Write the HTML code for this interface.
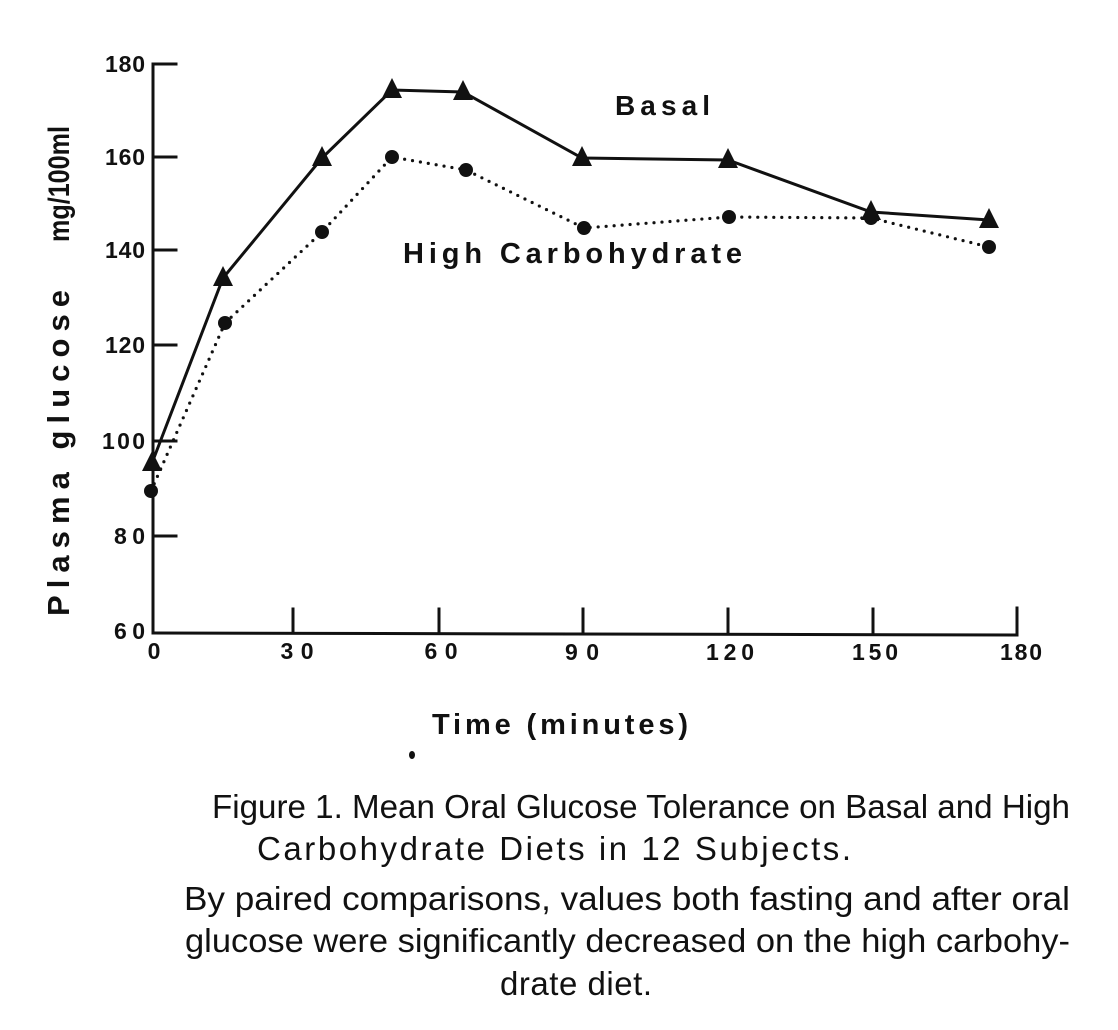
<!DOCTYPE html>
<html>
<head>
<meta charset="utf-8">
<style>
  html, body { margin: 0; padding: 0; background: #fff; }
  body { width: 1118px; height: 1030px; overflow: hidden; }
  svg { display: block; }
  .ax { font-family: "Liberation Sans", "DejaVu Sans", sans-serif; fill: #111; }
  .cap { font-family: "Liberation Sans", sans-serif; fill: #111; font-size: 33px; }
</style>
</head>
<body>
<svg width="1118" height="1030" viewBox="0 0 1118 1030" xmlns="http://www.w3.org/2000/svg">
  <rect width="1118" height="1030" fill="#fff"/>

  <!-- Axes -->
  <g stroke="#111" stroke-width="3" fill="none" stroke-linecap="square">
    <line x1="153" y1="64" x2="153" y2="633"/>
    <line x1="153" y1="633" x2="1017" y2="635"/>
    <!-- y ticks -->
    <line x1="153" y1="64" x2="176" y2="64"/>
    <line x1="153" y1="157" x2="176" y2="157"/>
    <line x1="153" y1="250" x2="176" y2="250"/>
    <line x1="153" y1="345" x2="176" y2="345"/>
    <line x1="153" y1="441" x2="176" y2="441"/>
    <line x1="153" y1="536" x2="176" y2="536"/>
    <!-- x ticks -->
    <line x1="293" y1="633" x2="293" y2="609"/>
    <line x1="439" y1="633" x2="439" y2="609"/>
    <line x1="583" y1="634" x2="583" y2="609"/>
    <line x1="728" y1="634" x2="728" y2="609"/>
    <line x1="873" y1="634" x2="873" y2="609"/>
    <line x1="1017" y1="635" x2="1017" y2="608"/>
  </g>

  <!-- Y tick labels -->
  <g class="ax" font-size="23" font-weight="bold" text-anchor="end">
    <text x="145" y="72" textLength="40" lengthAdjust="spacing">180</text>
    <text x="145" y="165" textLength="40" lengthAdjust="spacing">160</text>
    <text x="145" y="258" textLength="40" lengthAdjust="spacing">140</text>
    <text x="145" y="353" textLength="40" lengthAdjust="spacing">120</text>
    <text x="145" y="449" textLength="43" lengthAdjust="spacing">100</text>
    <text x="145" y="544" textLength="31" lengthAdjust="spacing">80</text>
    <text x="145" y="639" textLength="31" lengthAdjust="spacing">60</text>
  </g>

  <!-- X tick labels -->
  <g class="ax" font-size="23" font-weight="bold" text-anchor="middle">
    <text x="154" y="659">0</text>
    <text x="297" y="659" textLength="33" lengthAdjust="spacing">30</text>
    <text x="441" y="659" textLength="33" lengthAdjust="spacing">60</text>
    <text x="582" y="660" textLength="34" lengthAdjust="spacing">90</text>
    <text x="730" y="660" textLength="48" lengthAdjust="spacing">120</text>
    <text x="875" y="660" textLength="46" lengthAdjust="spacing">150</text>
    <text x="1021" y="660" textLength="42" lengthAdjust="spacing">180</text>
  </g>

  <!-- Y axis label -->
  <g class="ax" font-size="31" font-weight="bold">
    <text transform="translate(69,616) rotate(-90)" textLength="326" lengthAdjust="spacing">Plasma glucose</text>
    <text transform="translate(69,242) rotate(-90)" textLength="116" lengthAdjust="spacingAndGlyphs" font-size="30">mg/100ml</text>
  </g>

  <!-- X axis label -->
  <text class="ax" x="432" y="734" font-size="29" font-weight="bold" textLength="256" lengthAdjust="spacing">Time (minutes)</text>
  <ellipse cx="412" cy="755" rx="3" ry="4" fill="#111"/>

  <!-- Series labels -->
  <text class="ax" x="615" y="115" font-size="28" font-weight="bold" textLength="95" lengthAdjust="spacing">Basal</text>
  <text class="ax" x="403" y="263" font-size="29" font-weight="bold" textLength="339" lengthAdjust="spacing">High Carbohydrate</text>

  <!-- High Carbohydrate (dotted) -->
  <polyline fill="none" stroke="#111" stroke-width="3.2" stroke-linecap="round" stroke-dasharray="0 8"
    points="151,491 225,323 322,232 392,157 466,170 584,228 729,217 871,218 989,247"/>
  <g fill="#111">
    <circle cx="151" cy="491" r="7"/>
    <circle cx="225" cy="323" r="7"/>
    <circle cx="322" cy="232" r="7"/>
    <circle cx="392" cy="157" r="7"/>
    <circle cx="466" cy="170" r="7"/>
    <circle cx="584" cy="228" r="7"/>
    <circle cx="729" cy="217" r="7"/>
    <circle cx="871" cy="218" r="7"/>
    <circle cx="989" cy="247" r="7"/>
  </g>

  <!-- Basal (solid) -->
  <polyline fill="none" stroke="#111" stroke-width="3"
    points="152,463 223,278 322,158 392,90 463,92 582,158 728,160 871,212 989,220"/>
  <g fill="#111">
    <polygon points="152,451 142,471 162,471"/>
    <polygon points="223,266 213,286 233,286"/>
    <polygon points="322,146 312,166 332,166"/>
    <polygon points="392,78 382,98 402,98"/>
    <polygon points="463,80 453,100 473,100"/>
    <polygon points="582,146 572,166 592,166"/>
    <polygon points="728,148 718,168 738,168"/>
    <polygon points="871,200 861,220 881,220"/>
    <polygon points="989,208 979,228 999,228"/>
  </g>

  <!-- Caption -->
  <text class="cap" x="212" y="818" textLength="858" lengthAdjust="spacingAndGlyphs">Figure 1. Mean Oral Glucose Tolerance on Basal and High</text>
  <text class="cap" x="257" y="860" textLength="594" lengthAdjust="spacing">Carbohydrate Diets in 12 Subjects.</text>
  <text class="cap" x="184" y="910" textLength="886" lengthAdjust="spacingAndGlyphs">By paired comparisons, values both fasting and after oral</text>
  <text class="cap" x="185" y="952" textLength="885" lengthAdjust="spacingAndGlyphs">glucose were significantly decreased on the high carbohy-</text>
  <text class="cap" x="500" y="995" textLength="152" lengthAdjust="spacing">drate diet.</text>
</svg>
</body>
</html>
